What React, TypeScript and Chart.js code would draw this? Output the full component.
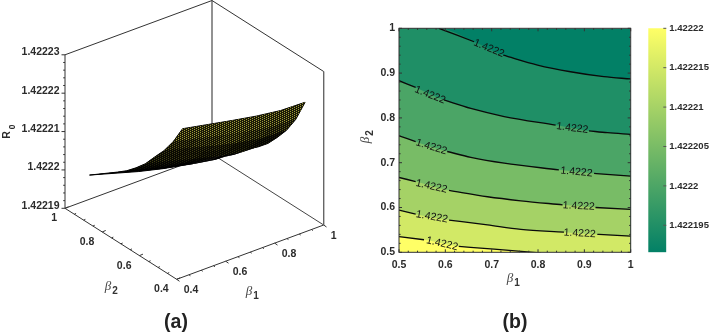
import React, { useEffect, useRef } from "react";
import { Chart, registerables } from "chart.js";

Chart.register(...registerables);

// ---------- Panel (a): surface values ----------
const BETA_1 = [0.5, 0.6, 0.7, 0.8, 0.9, 1];
const BETA_2 = [0.5, 0.55, 0.6, 0.65, 0.7, 0.75, 0.8, 0.85, 0.9, 0.95, 1];
const R0_B2_050 = [1.4222238, 1.4222225, 1.4222212, 1.42222, 1.4222191, 1.4222189];
const R0_B2_055 = [1.4222189, 1.4222173, 1.4222157, 1.4222143, 1.4222132, 1.4222129];
const R0_B2_060 = [1.422215, 1.4222133, 1.4222115, 1.4222099, 1.4222088, 1.4222085];
const R0_B2_065 = [1.4222118, 1.42221, 1.4222082, 1.4222066, 1.4222054, 1.4222051];
const R0_B2_070 = [1.4222085, 1.4222068, 1.422205, 1.4222034, 1.4222022, 1.422202];
const R0_B2_075 = [1.4222059, 1.4222042, 1.4222025, 1.422201, 1.4221999, 1.4221996];
const R0_B2_080 = [1.4222036, 1.4222019, 1.4222003, 1.4221989, 1.4221978, 1.4221976];
const R0_B2_085 = [1.4222017, 1.4222, 1.4221982, 1.4221966, 1.4221955, 1.4221952];
const R0_B2_090 = [1.4221999, 1.4221982, 1.4221964, 1.4221948, 1.4221936, 1.4221934];
const R0_B2_095 = [1.4221981, 1.4221963, 1.4221944, 1.4221928, 1.4221916, 1.4221913];
const R0_B2_100 = [1.4221963, 1.4221944, 1.4221925, 1.4221909, 1.4221896, 1.4221893];
const SURFACE_ROWS = [R0_B2_050, R0_B2_055, R0_B2_060, R0_B2_065, R0_B2_070, R0_B2_075, R0_B2_080, R0_B2_085, R0_B2_090, R0_B2_095, R0_B2_100];

const BOX_BETA = [0.4, 1];
const BOX_R0 = [1.42219, 1.42223];
const R0_TICKS = [1.42219, 1.4222, 1.42221, 1.42222, 1.42223];
const R0_TICK_LABELS = ["1.42219", "1.4222", "1.42221", "1.42222", "1.42223"];
const R0_MINOR = [1.422192, 1.422194, 1.422196, 1.422198, 1.422202, 1.422204, 1.422206, 1.422208, 1.422212, 1.422214, 1.422216, 1.422218, 1.422222, 1.422224, 1.422226, 1.422228];
const BETA_BOX_TICKS = [0.4, 0.6, 0.8, 1];
const BETA_BOX_MINOR = [0.45, 0.5, 0.55, 0.65, 0.7, 0.75, 0.85, 0.9, 0.95];

// ---------- Panel (b): contour lines; null marks the gap under a label ----------
type P = [number, number] | null;
const CONTOUR_1: P[] = [[0.5, 1], [0.586, 1], [0.662, 0.97], null, [0.725, 0.94], [0.799, 0.918], [0.87, 0.903], [0.942, 0.892], [1, 0.887]];
const CONTOUR_2: P[] = [[0.5, 0.883], [0.536, 0.868], null, [0.597, 0.84], [0.655, 0.821], [0.727, 0.803], [0.838, 0.784], null, [0.91, 0.771], [0.95, 0.767], [1, 0.763]];
const CONTOUR_3: P[] = [[0.5, 0.76], [0.536, 0.747], null, [0.604, 0.725], [0.655, 0.712], [0.727, 0.699], [0.845, 0.684], null, [0.921, 0.676], [1, 0.67]];
const CONTOUR_4: P[] = [[0.5, 0.667], [0.536, 0.658], null, [0.608, 0.638], [0.691, 0.624], [0.763, 0.615], [0.853, 0.606], null, [0.924, 0.6], [1, 0.596]];
const CONTOUR_5: P[] = [[0.5, 0.594], [0.536, 0.585], null, [0.608, 0.572], [0.691, 0.561], [0.763, 0.551], [0.856, 0.545], null, [0.928, 0.54], [1, 0.536]];
const CONTOUR_6: P[] = [[0.5, 0.535], [0.554, 0.528], null, [0.629, 0.513], [0.705, 0.507], [0.777, 0.501], [0.806, 0.4985]];
const CONTOURS = [CONTOUR_1, CONTOUR_2, CONTOUR_3, CONTOUR_4, CONTOUR_5, CONTOUR_6];
const BAND_COLORS = ["#028066", "#1f8f66", "#4ba566", "#78bc66", "#a5d266", "#d2e966", "#ffff66"];
const LABEL_X = [0.694, 0.567, 0.874, 0.57, 0.883, 0.57, 0.888, 0.571, 0.89, 0.593];
const LABEL_Y = [0.955, 0.851, 0.777, 0.735, 0.679, 0.647, 0.603, 0.579, 0.542, 0.519];
const LABEL_ANGLE = [22, 22, 7, 17, 5, 13, 3, 10, 3, 13];
const CONTOUR_TEXT = "1.4222";
const AXIS_TICKS = [0.5, 0.6, 0.7, 0.8, 0.9, 1];

// ---------- Colour bar ----------
const BAR_RANGE = [1.42219157, 1.42222];
const BAR_TICKS = [1.422195, 1.4222, 1.422205, 1.42221, 1.422215, 1.42222];

const SANS = '"Liberation Sans", Arial, sans-serif';
const TEXT = "#2b2b2b";

function project(b1: number, b2: number, z: number) {
  return {
    x: 176.7 + ((b1 - 0.4) / 0.6) * 147 - ((b2 - 0.4) / 0.6) * 111.7,
    y: 279.3 - ((b1 - 0.4) / 0.6) * 54.3 - ((b2 - 0.4) / 0.6) * 71 - ((z - 1.42219) / 4e-5) * 153.5,
  };
}

function text(ctx: any, s: string, x: number, y: number, font: string, align = "center", color = TEXT, rot = 0) {
  ctx.save();
  ctx.translate(x, y);
  if (rot) ctx.rotate((rot * Math.PI) / 180);
  ctx.font = font;
  ctx.fillStyle = color;
  ctx.textAlign = align;
  ctx.textBaseline = "middle";
  ctx.fillText(s, 0, 0);
  ctx.restore();
}

function segment(ctx: any, a: any, b: any, color = "#333", w = 1) {
  ctx.save();
  ctx.strokeStyle = color;
  ctx.lineWidth = w;
  ctx.beginPath();
  ctx.moveTo(a.x, a.y);
  ctx.lineTo(b.x, b.y);
  ctx.stroke();
  ctx.restore();
}

function dotPattern(level: number) {
  const c = document.createElement("canvas");
  c.width = 4;
  c.height = 2;
  const g = c.getContext("2d")!;
  g.fillStyle = `rgb(${Math.round(26 * level)},${Math.round(26 * level)},${Math.round(8 * level)})`;
  g.fillRect(0, 0, 4, 2);
  g.fillStyle = `rgb(${Math.round(160 * level)},${Math.round(155 * level)},${Math.round(52 * level)})`;
  g.fillRect(0, 0, 1, 1);
  g.fillRect(2, 1, 1, 1);
  return g.createPattern(c, "repeat")!;
}

function surfaceDatasets() {
  const out: any[] = [];
  for (let r = 0; r < BETA_2.length - 1; r++) {
    for (let c = 0; c < BETA_1.length - 1; c++) {
      const a = project(BETA_1[c], BETA_2[r], SURFACE_ROWS[r][c]);
      const b = project(BETA_1[c + 1], BETA_2[r], SURFACE_ROWS[r][c + 1]);
      const d = project(BETA_1[c + 1], BETA_2[r + 1], SURFACE_ROWS[r + 1][c + 1]);
      const e = project(BETA_1[c], BETA_2[r + 1], SURFACE_ROWS[r + 1][c]);
      const area = Math.abs((d.x - a.x) * (e.y - b.y) - (d.y - a.y) * (e.x - b.x)) / 2;
      const level = Math.round(Math.pow(Math.min(1, area / 280), 1.4) * 10) / 10;
      out.push({
        data: [a, b, d, e],
        showLine: true,
        fill: "shape",
        backgroundColor: dotPattern(level),
        borderWidth: 0,
        pointRadius: 0,
      });
    }
  }
  const outline = [
    ...BETA_1.map((v, c) => project(v, BETA_2[0], SURFACE_ROWS[0][c])),
    ...BETA_2.map((v, r) => project(1, v, SURFACE_ROWS[r][5])),
    ...BETA_1.map((v, c) => project(v, 1, SURFACE_ROWS[10][c])).reverse(),
    ...BETA_2.map((v, r) => project(0.5, v, SURFACE_ROWS[r][0])).reverse(),
  ];
  out.push({ data: outline, showLine: true, fill: "shape", backgroundColor: "#000", borderColor: "#000", borderWidth: 1, pointRadius: 0 });
  return out;
}

function frameDatasets() {
  const [lo, hi] = BOX_BETA;
  const [z0, z1] = BOX_R0;
  const edges: [number[], number[], string, number][] = [
    [[lo, hi, z1], [hi, hi, z1], "#333", 1],
    [[hi, hi, z1], [hi, lo, z1], "#333", 1],
    [[lo, hi, z0], [lo, hi, z1], "#333", 1],
    [[hi, hi, z0], [hi, hi, z1], "#777", 1.6],
    [[hi, lo, z0], [hi, lo, z1], "#666", 1.4],
    [[lo, lo, z0], [lo, hi, z0], "#333", 1],
    [[lo, lo, z0], [hi, lo, z0], "#333", 1],
    [[lo, hi, z0], [hi, hi, z0], "#333", 1],
    [[hi, lo, z0], [hi, hi, z0], "#444", 1],
  ];
  return edges.map(([a, b, color, w]) => ({
    data: [project(a[0], a[1], a[2]), project(b[0], b[1], b[2])],
    showLine: true,
    borderColor: color,
    borderWidth: w,
    pointRadius: 0,
    clip: false,
  }));
}

const betaLabel = (ctx: any, x: number, y: number, sub: string, rot = 0) => {
  ctx.save();
  ctx.translate(x, y);
  if (rot) ctx.rotate((rot * Math.PI) / 180);
  text(ctx, "β", 0, 0, 'italic 13px "Liberation Serif", serif', "center", "#444");
  text(ctx, sub, 7, 4, `bold 10px ${SANS}`, "center", "#333");
  ctx.restore();
};

const boxPlugin = {
  id: "box3d",
  afterDraw(chart: any) {
    const ctx = chart.ctx;
    const sx = chart.scales.x;
    const sy = chart.scales.y;
    const px = (p: any) => ({ x: sx.getPixelForValue(p.x), y: sy.getPixelForValue(p.y) });
    const font = `bold 10.5px ${SANS}`;
    const [lo, hi] = BOX_BETA;
    const z0 = BOX_R0[0];
    R0_TICKS.forEach((v, i) => {
      const p = px(project(lo, hi, v));
      segment(ctx, p, { x: p.x - 3.5, y: p.y });
      text(ctx, R0_TICK_LABELS[i], 59.5, p.y - 2.5, font, "right");
    });
    R0_MINOR.forEach((v) => {
      const p = px(project(lo, hi, v));
      segment(ctx, p, { x: p.x - 1.8, y: p.y });
    });
    BETA_BOX_TICKS.forEach((v) => {
      const p = px(project(lo, v, z0));
      segment(ctx, p, { x: p.x + 3.5, y: p.y - 1.5 });
      text(ctx, v === 1 ? "1" : v.toFixed(1), p.x - 8, p.y + 10, font, "right");
    });
    BETA_BOX_MINOR.forEach((v) => {
      const p = px(project(lo, v, z0));
      segment(ctx, p, { x: p.x + 1.8, y: p.y - 0.8 });
    });
    BETA_BOX_TICKS.forEach((v) => {
      const p = px(project(v, lo, z0));
      segment(ctx, p, { x: p.x + 2.8, y: p.y + 2 });
      text(ctx, v === 1 ? "1" : v.toFixed(1), p.x + 7, p.y + 11, font, "left");
    });
    BETA_BOX_MINOR.forEach((v) => {
      const p = px(project(v, lo, z0));
      segment(ctx, p, { x: p.x + 1.5, y: p.y + 1 });
    });
    betaLabel(ctx, 108, 287, "2");
    betaLabel(ctx, 249, 292, "1");
    text(ctx, "R", 7, 135, `bold 10.5px ${SANS}`, "center", TEXT, -90);
    text(ctx, "0", 13, 127, `bold 8.5px ${SANS}`, "center", TEXT, -90);
    text(ctx, "(a)", 176, 323, `bold 19.5px ${SANS}`, "center", "#222");
  },
};

const contourPlugin = {
  id: "contourDecor",
  afterDraw(chart: any) {
    const ctx = chart.ctx;
    const sx = chart.scales.x;
    const sy = chart.scales.y;
    const a = chart.chartArea;
    LABEL_X.forEach((v, i) => {
      text(ctx, CONTOUR_TEXT, sx.getPixelForValue(v), sy.getPixelForValue(LABEL_Y[i]), `10.5px ${SANS}`, "center", "#111", LABEL_ANGLE[i]);
    });
    const minors: number[] = [];
    for (let k = 25; k <= 50; k++) minors.push(k * 2);
    minors.forEach((k) => {
      const v = k / 100;
      const major = k % 10 === 0;
      const l = major ? 3 : 1.6;
      const x = sx.getPixelForValue(v);
      const y = sy.getPixelForValue(v);
      segment(ctx, { x, y: a.bottom }, { x, y: a.bottom - l });
      segment(ctx, { x, y: a.top }, { x, y: a.top + l });
      segment(ctx, { x: a.left, y }, { x: a.left + l, y });
      segment(ctx, { x: a.right, y }, { x: a.right - l, y });
    });
    ctx.save();
    ctx.strokeStyle = "#333";
    ctx.lineWidth = 1;
    ctx.strokeRect(a.left, a.top, a.right - a.left, a.bottom - a.top);
    ctx.restore();
    betaLabel(ctx, 156, 279, "1");
    betaLabel(ctx, 12, 140, "2", -90);
    text(ctx, "(b)", 161, 323, `bold 19.5px ${SANS}`, "center", "#222");
  },
};

const barPlugin = {
  id: "barTicks",
  afterDraw(chart: any) {
    const ctx = chart.ctx;
    const a = chart.chartArea;
    BAR_TICKS.forEach((v) => {
      const y = chart.scales.y.getPixelForValue(v);
      segment(ctx, { x: a.right - 3, y }, { x: a.right, y }, "#555");
    });
  },
};

function pts(c: P[]) {
  return c.filter((p) => p).map((p) => ({ x: p![0], y: p![1] }));
}
function gapped(c: P[]) {
  return c.map((p, i) =>
    p ? { x: p[0], y: p[1] } : { x: (c[i - 1]![0] + c[i + 1]![0]) / 2, y: NaN }
  );
}

export default function App() {
  const a = useRef<HTMLCanvasElement>(null);
  const b = useRef<HTMLCanvasElement>(null);
  const c = useRef<HTMLCanvasElement>(null);

  useEffect(() => {
    const hidden = { display: false };
    const left = new Chart(a.current!, {
      type: "scatter",
      data: { datasets: [...surfaceDatasets(), ...frameDatasets()] as any },
      plugins: [boxPlugin],
      options: {
        responsive: false,
        animation: false,
        layout: { padding: 0 },
        plugins: { legend: hidden, tooltip: { enabled: false } },
        scales: {
          x: { ...hidden, type: "linear", min: 0, max: 354 },
          y: { ...hidden, type: "linear", min: 0, max: 335, reverse: true },
        },
      } as any,
    });

    const strokes = CONTOURS.map((k) => ({
      data: gapped(k.slice(k === CONTOUR_1 ? 1 : 0)),
      showLine: true,
      borderColor: "#0a0a0a",
      borderWidth: 1.3,
      pointRadius: 0,
      cubicInterpolationMode: "monotone",
      spanGaps: false,
    }));
    const fills = [...CONTOURS].reverse().map((k, i) => ({
      data: pts(k),
      showLine: true,
      fill: "start",
      backgroundColor: BAND_COLORS[BAND_COLORS.length - 1 - i],
      borderWidth: 0,
      pointRadius: 0,
      cubicInterpolationMode: "monotone",
    }));
    const base = {
      data: [{ x: 0.5, y: 1 }, { x: 1, y: 1 }],
      showLine: true,
      fill: "start",
      backgroundColor: BAND_COLORS[0],
      borderWidth: 0,
      pointRadius: 0,
    };
    const tickFont = { family: SANS, size: 10.5, weight: "bold" as const };
    const axisTicks = (s: any) => {
      s.ticks = AXIS_TICKS.map((value) => ({ value }));
    };
    const mid = new Chart(b.current!, {
      type: "scatter",
      data: { datasets: [...strokes, ...fills, base] as any },
      plugins: [contourPlugin],
      options: {
        responsive: false,
        animation: false,
        layout: { padding: { left: 0, right: 13.3, top: 28.3, bottom: 22.7 } },
        plugins: { legend: hidden, tooltip: { enabled: false } },
        scales: {
          x: {
            type: "linear",
            min: 0.5,
            max: 1,
            afterBuildTicks: axisTicks,
            afterFit: (s: any) => { s.height = 60; },
            grid: { display: false, drawTicks: false },
            border: { display: false },
            ticks: { font: tickFont, color: TEXT, padding: 7, maxRotation: 0, autoSkip: false, callback: (v: number) => (v === 1 ? "1" : v.toFixed(1)) },
          },
          y: {
            type: "linear",
            min: 0.5,
            max: 1,
            afterBuildTicks: axisTicks,
            afterFit: (s: any) => { s.width = 45; },
            grid: { display: false, drawTicks: false },
            border: { display: false },
            ticks: { font: tickFont, color: TEXT, padding: 4, autoSkip: false, callback: (v: number) => (v === 1 ? "1" : v.toFixed(1)) },
          },
        },
      } as any,
    });

    const bar = new Chart(c.current!, {
      type: "bar",
      data: {
        labels: [""],
        datasets: [{
          data: [BAR_RANGE] as any,
          barPercentage: 1,
          categoryPercentage: 1,
          borderWidth: 0,
          backgroundColor: (ctx: any) => {
            const area = ctx.chart.chartArea;
            if (!area) return "#888";
            const g = ctx.chart.ctx.createLinearGradient(0, area.bottom, 0, area.top);
            g.addColorStop(0, BAND_COLORS[0]);
            g.addColorStop(1, BAND_COLORS[6]);
            return g;
          },
        }],
      },
      plugins: [barPlugin],
      options: {
        responsive: false,
        animation: false,
        layout: { padding: { left: 8.3, right: 0, top: 28.3, bottom: 82.7 } },
        plugins: { legend: hidden, tooltip: { enabled: false } },
        scales: {
          x: { display: false },
          y: {
            position: "right",
            min: BAR_RANGE[0],
            max: BAR_RANGE[1],
            afterBuildTicks: (s: any) => { s.ticks = BAR_TICKS.map((value) => ({ value })); },
            afterFit: (s: any) => { s.width = 42.7; },
            grid: { display: false, drawTicks: false },
            border: { display: false },
            ticks: { font: { family: SANS, size: 9.5, weight: "bold" }, color: TEXT, padding: 3, autoSkip: false, callback: (v: number) => String(v) },
          },
        },
      } as any,
    });

    return () => {
      left.destroy();
      mid.destroy();
      bar.destroy();
    };
  }, []);

  const abs = (x: number): React.CSSProperties => ({ position: "absolute", left: x, top: 0 });
  return (
    <div style={{ position: "absolute", left: 0, top: 0, width: 709, height: 335, overflow: "hidden", background: "#fff" }}>
      <canvas ref={a} width={354} height={335} style={abs(0)} />
      <canvas ref={b} width={290} height={335} style={abs(354)} />
      <canvas ref={c} width={69} height={335} style={abs(640)} />
    </div>
  );
}
